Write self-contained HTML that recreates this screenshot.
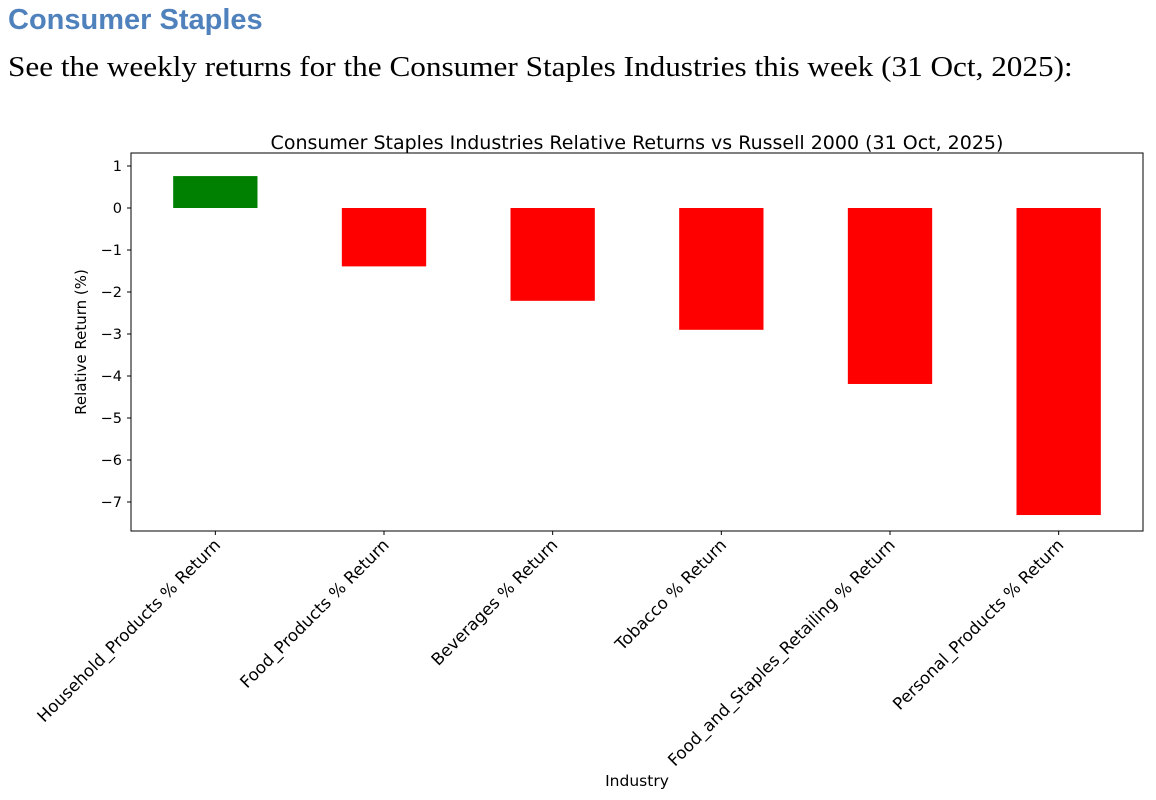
<!DOCTYPE html>
<html><head><meta charset="utf-8"><style>
body{margin:0;width:1156px;height:800px;background:#fff;overflow:hidden;position:relative}
#h1{position:absolute;left:8px;top:4px;font:bold 29px "Liberation Sans",sans-serif;color:#4f81bd}
#h2{position:absolute;left:8px;top:52px;font:28px "Liberation Serif",serif;color:#000;transform:scaleX(1.115);transform-origin:left top;white-space:nowrap}
svg{position:absolute;left:0;top:0}
text{font-family:"DejaVu Sans","Liberation Sans",sans-serif}
</style></head><body>
<div id="h1">Consumer Staples</div>
<div id="h2">See the weekly returns for the Consumer Staples Industries this week (31 Oct, 2025):</div>
<svg id="chart" width="1156" height="800"></svg>
<script>
const categories=["Household_Products % Return","Food_Products % Return","Beverages % Return","Tobacco % Return","Food_and_Staples_Retailing % Return","Personal_Products % Return"];
const values=[0.76,-1.39,-2.21,-2.90,-4.19,-7.31];
const yTicks=[1,0,-1,-2,-3,-4,-5,-6,-7];
const NS="http://www.w3.org/2000/svg";
const svg=document.getElementById('chart');
const L=131,R=1143,T=153,B=531;
const y=v=>208-v*42;
const x=i=>L+(i+0.5)*(R-L)/categories.length;
const bw=(R-L)/categories.length*0.5;
function mk(t,a,p){const e=document.createElementNS(NS,t);for(const k in a)e.setAttribute(k,a[k]);(p||svg).appendChild(e);return e;}
values.forEach((v,i)=>{
 const r=mk('rect',{x:x(i)-bw/2,y:Math.min(y(v),y(0)),width:bw,height:Math.abs(y(v)-y(0)),fill:v>=0?'#008000':'#ff0000'});
 
 
});
const frame=mk('rect',{x:L,y:T,width:R-L,height:B-T,fill:'none',stroke:'#000','stroke-width':1});


yTicks.forEach(t=>{
 mk('line',{x1:L-4,x2:L,y1:y(t),y2:y(t),stroke:'#000'});
 const tx=mk('text',{x:L-9,y:y(t)+5,'text-anchor':'end','font-size':14.5});
 tx.textContent=t<0?'\u2212'+(-t):String(t);
 
 
});
categories.forEach((c,i)=>{
 mk('line',{x1:x(i),x2:x(i),y1:B,y2:B+4,stroke:'#000'});
 const tx=mk('text',{x:x(i)+6,y:B+15,'text-anchor':'end','font-size':16.7,transform:`rotate(-45 ${x(i)+6} ${B+15})`});
 tx.textContent=c;
 
 
});
const tt=mk('text',{x:637,y:149,'text-anchor':'middle','font-size':19});
tt.textContent='Consumer Staples Industries Relative Returns vs Russell 2000 (31 Oct, 2025)';


const xl=mk('text',{x:(L+R)/2,y:786,'text-anchor':'middle','font-size':15.5});
xl.textContent='Industry';


const yl=mk('text',{x:86,y:(T+B)/2,'text-anchor':'middle','font-size':15});
yl.setAttribute('transform',`rotate(-90 86 ${(T+B)/2})`);
yl.textContent='Relative Return (%)';


</script>
</body></html>
